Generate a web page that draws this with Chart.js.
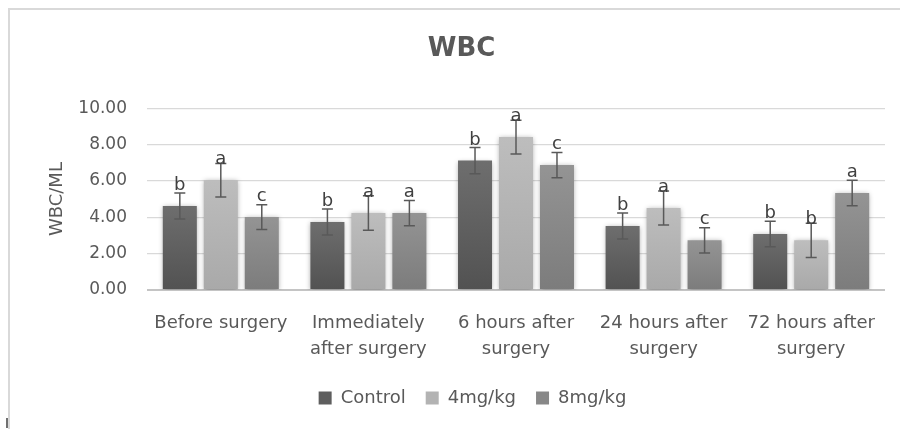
<!DOCTYPE html>
<html>
<head>
<meta charset="utf-8">
<script src="https://cdn.jsdelivr.net/npm/chart.js@4.4.1/dist/chart.umd.min.js"></script>
<style>
    html, body { margin: 0; padding: 0; background: #fff; }
    #contenedor { width: 900px; height: 429px; }
</style>
</head>
<body>
<div id="contenedor"><canvas id="graficoWBC" width="900" height="429"></canvas></div>
<script>
// Datos
const categorias = [
    'Before surgery',
    ['Immediately', 'after surgery'],
    ['6 hours after', 'surgery'],
    ['24 hours after', 'surgery'],
    ['72 hours after', 'surgery']
];
const grupos = ['Control', '4mg/kg', '8mg/kg'];
const valoresControl = [4.62, 3.74, 7.12, 3.52, 3.08];
const valores4mg = [6.04, 4.23, 8.41, 4.51, 2.73];
const valores8mg = [4.01, 4.23, 6.87, 2.73, 5.33];
const errorControl = [0.72, 0.72, 0.72, 0.72, 0.70];
const error4mg = [0.92, 0.95, 0.93, 0.94, 0.94];
const error8mg = [0.68, 0.69, 0.70, 0.70, 0.70];
const letrasControl = ['b', 'b', 'b', 'b', 'b'];
const letras4mg = ['a', 'a', 'a', 'a', 'b'];
const letras8mg = ['c', 'a', 'c', 'c', 'a'];
const ticksY = [0, 2, 4, 6, 8, 10];

const errores = [errorControl, error4mg, error8mg];
const letras = [letrasControl, letras4mg, letras8mg];

Chart.defaults.font.family = '"DejaVu Sans", "Liberation Sans", sans-serif';
Chart.defaults.color = '#595959';

// degradado vertical por barra
function degradado(arriba, abajo) {
    return function (context) {
        const chart = context.chart;
        const escala = chart.scales && chart.scales.y;
        if (!chart.chartArea || !escala || context.parsed == null) return abajo;
        const yTop = escala.getPixelForValue(context.parsed.y);
        const yBot = escala.getPixelForValue(0);
        const g = chart.ctx.createLinearGradient(0, yTop, 0, yBot);
        g.addColorStop(0, arriba);
        g.addColorStop(1, abajo);
        return g;
    };
}

const pluginBarras = {
    id: 'barrasError',
    afterLayout(chart) {
        // mover leyenda y título un poco a la derecha, como en el original
        chart.legend.left += 25;
        chart.legend.right += 25;
        chart.titleBlock.left += 14;
        chart.titleBlock.right += 14;
    },
    beforeDraw(chart) {
        const ctx = chart.ctx;
        ctx.save();
        ctx.strokeStyle = '#d9d9d9';
        ctx.lineWidth = 2;
        ctx.beginPath();
        ctx.moveTo(9, 429);
        ctx.lineTo(9, 9);
        ctx.lineTo(900, 9);
        ctx.stroke();
        ctx.strokeStyle = '#404040';
        ctx.lineWidth = 1.5;
        ctx.beginPath();
        ctx.moveTo(7, 418);
        ctx.lineTo(7, 428);
        ctx.stroke();
        ctx.restore();
    },
    beforeDatasetsDraw(chart) {
        const ctx = chart.ctx;
        ctx.save();
        ctx.shadowColor = 'rgba(0, 0, 0, 0.35)';
        ctx.shadowBlur = 5;
        ctx.shadowOffsetX = 0;
        ctx.shadowOffsetY = 1;
    },
    afterDatasetsDraw(chart) {
        const ctx = chart.ctx;
        ctx.restore();
        const y = chart.scales.y;
        chart.data.datasets.forEach((ds, i) => {
            chart.getDatasetMeta(i).data.forEach((bar, j) => {
                const v = ds.data[j];
                const e = errores[i][j];
                const yTop = y.getPixelForValue(v + e);
                const yBot = y.getPixelForValue(v - e);
                ctx.save();
                ctx.strokeStyle = '#595959';
                ctx.lineWidth = 1.5;
                ctx.beginPath();
                ctx.moveTo(bar.x, yTop);
                ctx.lineTo(bar.x, yBot);
                ctx.moveTo(bar.x - 5.5, yTop);
                ctx.lineTo(bar.x + 5.5, yTop);
                ctx.moveTo(bar.x - 5.5, yBot);
                ctx.lineTo(bar.x + 5.5, yBot);
                ctx.stroke();
                ctx.fillStyle = '#404040';
                ctx.font = '18px "DejaVu Sans"';
                ctx.textAlign = 'center';
                ctx.textBaseline = 'alphabetic';
                ctx.fillText(letras[i][j], bar.x, bar.y - 16);
                ctx.restore();
            });
        });
    }
};

const ctxWBC = document.getElementById('graficoWBC').getContext('2d');
new Chart(ctxWBC, {
    type: 'bar',
    data: {
        labels: categorias,
        datasets: [
            { label: grupos[0], data: valoresControl, backgroundColor: degradado('#6e6e6e', '#525252') },
            { label: grupos[1], data: valores4mg, backgroundColor: degradado('#bdbdbd', '#a9a9a9') },
            { label: grupos[2], data: valores8mg, backgroundColor: degradado('#949494', '#7c7c7c') }
        ]
    },
    options: {
        responsive: false,
        animation: false,
        categoryPercentage: 0.833,
        barPercentage: 0.83,
        layout: { padding: { left: 10, right: 15, top: 0, bottom: 12 } },
        plugins: {
            title: {
                display: true,
                text: 'WBC',
                color: '#595959',
                font: { size: 26, weight: 'bold' },
                padding: { top: 34, bottom: 43 }
            },
            legend: {
                position: 'bottom',
                labels: {
                    boxWidth: 13,
                    boxHeight: 13,
                    padding: 20,
                    color: '#595959',
                    font: { size: 18 },
                    generateLabels: function (chart) {
                        const base = ['#5e5e5e', '#b3b3b3', '#888888'];
                        return chart.data.datasets.map((ds, i) => ({
                            text: ds.label,
                            fillStyle: base[i],
                            strokeStyle: base[i],
                            lineWidth: 0,
                            datasetIndex: i,
                            fontColor: '#595959'
                        }));
                    }
                }
            },
            tooltip: { enabled: false }
        },
        scales: {
            x: {
                grid: { display: false },
                border: { display: false },
                ticks: {
                    padding: 12,
                    color: '#595959',
                    font: { size: 18, lineHeight: 1.44 },
                    maxRotation: 0,
                    autoSkip: false
                },
                afterFit: function (scale) { scale.height = 79; }
            },
            y: {
                min: 0,
                max: 10,
                afterBuildTicks: function (scale) {
                    scale.ticks = ticksY.map(v => ({ value: v }));
                },
                grid: {
                    drawTicks: false,
                    color: ctx => ctx.tick && ctx.tick.value === 0 ? '#c4c4c4' : '#d9d9d9',
                    lineWidth: ctx => ctx.tick && ctx.tick.value === 0 ? 2 : 1.2
                },
                border: { display: false },
                ticks: {
                    padding: 20,
                    color: '#595959',
                    font: { size: 17 },
                    callback: function (value) { return value.toFixed(2); }
                },
                title: {
                    display: true,
                    text: 'WBC/ML',
                    color: '#595959',
                    font: { size: 18 },
                    padding: { top: 37, bottom: 0 }
                },
                afterFit: function (scale) { scale.width = 137; }
            }
        }
    },
    plugins: [pluginBarras]
});
</script>
</body>
</html>
